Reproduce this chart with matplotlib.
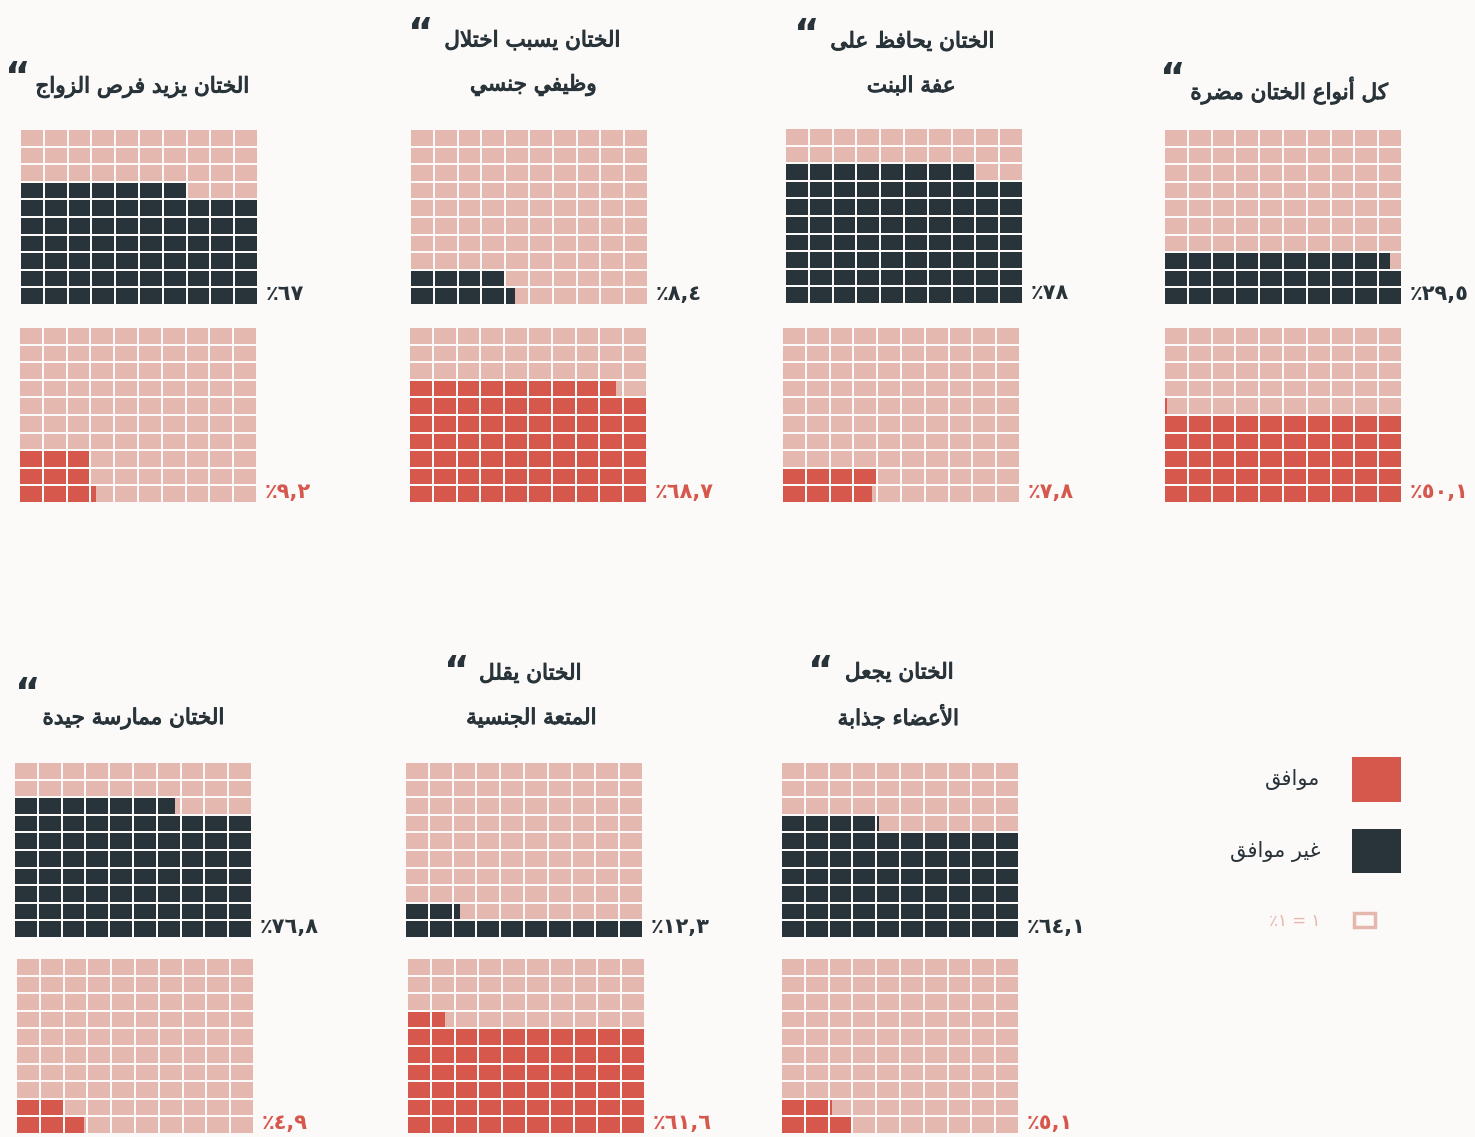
import math
import matplotlib
matplotlib.use("Agg")
import matplotlib.pyplot as plt
import matplotlib.patheffects as pe

W, H = 1475, 1137

# data (percent)
titles = [
    ["الختان يزيد فرص الزواج"],
    ["الختان يسبب اختلال", "وظيفي جنسي"],
    ["الختان يحافظ على", "عفة البنت"],
    ["كل أنواع الختان مضرة"],
    ["الختان ممارسة جيدة"],
    ["الختان يقلل", "المتعة الجنسية"],
    ["الختان يجعل", "الأعضاء جذابة"],
]
disagree = [67, 8.4, 78, 29.5, 76.8, 12.3, 64.1]
agree = [9.2, 68.7, 7.8, 50.1, 4.9, 61.6, 5.1]
legend_labels = ["موافق", "غير موافق"]

BG = "#fcf9f9"
PINK = "#e4b8af"
RED = "#d6574c"
DARK = "#29343a"

# pixel layout: (top grid box, bottom grid box, title line centers, quote pos)
layout = [
    ((20, 129, 258, 305), (19, 327, 257, 503), [(142, 87)], (18, 79)),
    ((410, 129, 648, 305), (409, 327, 647, 503), [(532, 40), (533, 85)], (421, 35)),
    ((785, 128, 1023, 304), (782, 327, 1020, 503), [(912, 41), (911, 86)], (807, 36)),
    ((1164, 129, 1402, 305), (1164, 327, 1402, 503), [(1289, 90)], (1173, 80)),
    ((14, 762, 252, 938), (16, 958, 254, 1134), [(133, 718)], (28, 695)),
    ((405, 762, 643, 938), (407, 958, 645, 1134), [(530, 673), (531, 718)], (457, 673)),
    ((781, 762, 1019, 938), (781, 958, 1019, 1134), [(899, 672), (898, 717)], (821, 673)),
]

# ---- minimal arabic shaping (presentation forms B) ----
_letters = [chr(c) for c in list(range(0x0621, 0x063B)) + list(range(0x0641, 0x064B))]
_right = set("آأؤإاةدذرزوى")
_forms = {}
_cp = 0xFE80
for ch in _letters:
    n = 1 if ch == "ء" else (2 if ch in _right else 4)
    _forms[ch] = [chr(_cp + i) for i in range(n)]
    _cp += n
_lamalef = {"آ": 0xFEF5, "أ": 0xFEF7, "إ": 0xFEF9, "ا": 0xFEFB}


def _dual(ch):
    return ch in _forms and len(_forms[ch]) == 4


def shape(text):
    chars = []
    i = 0
    while i < len(text):
        if text[i] == "ل" and i + 1 < len(text) and text[i + 1] in _lamalef:
            chars.append(("LA", text[i + 1]))
            i += 2
        else:
            chars.append((text[i], None))
            i += 1
    out = []
    for k, (ch, extra) in enumerate(chars):
        prev = chars[k - 1][0] if k > 0 else None
        nxt = chars[k + 1][0] if k + 1 < len(chars) else None
        jp = prev is not None and prev != "LA" and _dual(prev)
        jn = nxt is not None and (nxt in _forms or nxt == "LA")
        if ch == "LA":
            out.append(chr(_lamalef[extra] + (1 if jp else 0)))
            continue
        if ch not in _forms:
            out.append(ch)
            continue
        f = _forms[ch]
        if len(f) == 1:
            out.append(f[0])
        elif len(f) == 2:
            out.append(f[1] if jp else f[0])
        else:
            if jp and jn:
                out.append(f[3])
            elif jp:
                out.append(f[1])
            elif jn:
                out.append(f[2])
            else:
                out.append(f[0])
    return "".join(out)[::-1]


def ar_num(v):
    s = ("%g" % v).replace(".", ",")
    return "٪" + s.translate(str.maketrans("0123456789", "٠١٢٣٤٥٦٧٨٩"))


def fill_cells(v):
    cells = []
    if v >= 10:
        full = int(v)
        frac = round(v - full, 3)
        for r in range(full // 10):
            for c in range(10):
                cells.append((c, r, 1.0))
        for c in range(full % 10):
            cells.append((c, full // 10, 1.0))
        if frac > 0:
            cells.append((full % 10, full // 10, frac))
    else:
        n = int(round(v))
        h = 3 if (n % 3 == 0 and n >= 9) else 2
        counts = [(n + h - 1 - i) // h for i in range(h)]
        frac = round(v - n, 3)
        for r, cnt in enumerate(counts):
            for c in range(cnt):
                w = 1.0
                if frac < 0 and r == 0 and c == cnt - 1:
                    w = 1 + frac
                cells.append((c, r, w))
        if frac > 0:
            spot = (counts[0], 0)
            for r, cnt in enumerate(counts):
                if cnt < counts[0]:
                    spot = (cnt, r)
                    break
            cells.append((spot[0], spot[1], frac))
    return cells


def px_axes(fig, box):
    x0, y0, x1, y1 = box
    ax = fig.add_axes([x0 / W, 1 - y1 / H, (x1 - x0) / W, (y1 - y0) / H])
    ax.set_xlim(0, 10)
    ax.set_ylim(0, 10)
    ax.axis("off")
    return ax


def waffle(fig, box, value, color):
    gx, gy = 0.085, 0.115
    ax = px_axes(fig, box)
    cols = [c for r in range(10) for c in range(10)]
    rows = [r for r in range(10) for c in range(10)]
    ax.bar([c + gx / 2 for c in cols], 1 - gy, width=1 - gx,
           bottom=[r + gy / 2 for r in rows], align="edge", color=PINK, linewidth=0)
    cells = fill_cells(value)
    ax.bar([c + gx / 2 for c, r, w in cells], 1 - gy,
           width=[(1 - gx) * w for c, r, w in cells],
           bottom=[r + gy / 2 for c, r, w in cells], align="edge", color=color, linewidth=0)
    fig.text((box[2] + 8) / W, 1 - (box[3] - 1) / H, ar_num(value), color=color,
             fontsize=15, fontweight="bold", ha="left", va="bottom")


plt.rcParams["font.family"] = ["DejaVu Sans"]
fig = plt.figure(figsize=(W / 100, H / 100), dpi=100, facecolor=BG)
heavy = [pe.withStroke(linewidth=0.8, foreground=DARK)]

for i in range(len(titles)):
    top_box, bot_box, line_pos, qpos = layout[i]
    waffle(fig, top_box, disagree[i], DARK)
    waffle(fig, bot_box, agree[i], RED)
    for line, (cx, cy) in zip(titles[i], line_pos):
        fig.text(cx / W, 1 - cy / H, shape(line), fontsize=15.5, color=DARK,
                 ha="center", va="center", path_effects=heavy)
    fig.text(qpos[0] / W, 1 - qpos[1] / H, "\u201c", fontsize=28, fontweight="bold",
             color=DARK, ha="center", va="center")

# legend
lax = px_axes(fig, (1340, 745, 1420, 940))
lax.set_xlim(1340, 1420)
lax.set_ylim(940, 745)
lax.bar([1352], [45], width=49, bottom=[757], align="edge", color=RED, linewidth=0)
lax.bar([1352], [44], width=49, bottom=[829], align="edge", color=DARK, linewidth=0)
lax.bar([1353.5], [14.5], width=21.5, bottom=[912.5], align="edge", color="none",
        edgecolor=PINK, linewidth=2.5)
fig.text(1320 / W, 1 - 779 / H, shape(legend_labels[0]), fontsize=15, color=DARK,
         ha="right", va="center")
fig.text(1320 / W, 1 - 851 / H, shape(legend_labels[1]), fontsize=15, color=DARK,
         ha="right", va="center")
fig.text(1320 / W, 1 - 921 / H, "٪١ = ١", fontsize=12, color=PINK, ha="right", va="center")

fig.savefig("out.png", dpi=100, facecolor=BG)
